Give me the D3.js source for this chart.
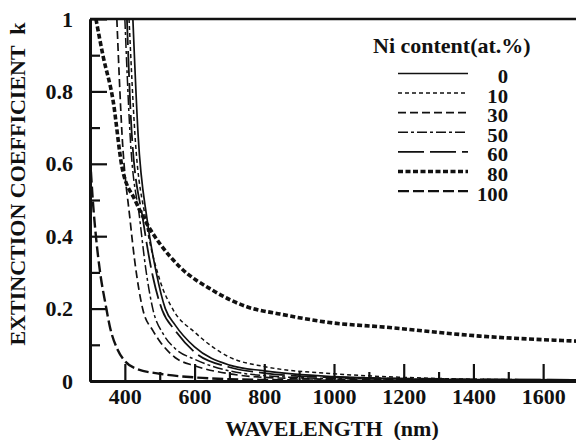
<!DOCTYPE html>
<html>
<head>
<meta charset="utf-8">
<script src="https://cdn.jsdelivr.net/npm/d3@7"></script>
<style>
  body { margin: 0; background: #fff; }
  svg text { font-family: "Liberation Serif", "Times New Roman", serif; font-weight: bold; fill: #111; }
</style>
</head>
<body>
<script>
// Ni content series (wavelength nm -> k)
const niContent = ["0", "10", "30", "50", "60", "80", "100"];

const wl0 = [423, 438, 464, 490, 516, 544, 600, 700, 800, 1000, 1200, 1400, 1700];
const k0  = [1.0, 0.68, 0.445, 0.30, 0.20, 0.155, 0.094, 0.044, 0.028, 0.012, 0.006, 0.004, 0.003];

const wl10 = [412, 429, 460, 500, 539, 600, 700, 800, 1000, 1200, 1400, 1700];
const k10  = [1.0, 0.68, 0.445, 0.28, 0.196, 0.135, 0.066, 0.04, 0.02, 0.01, 0.005, 0.003];

const wl30 = [377, 392, 415, 428, 452, 480, 500, 544, 600, 700, 800, 1000, 1700];
const k30  = [1.0, 0.68, 0.445, 0.334, 0.196, 0.14, 0.11, 0.065, 0.042, 0.02, 0.01, 0.005, 0.002];

const wl50 = [400, 415, 443, 460, 481, 510, 544, 600, 700, 800, 1000, 1700];
const k50  = [1.0, 0.68, 0.445, 0.31, 0.196, 0.13, 0.09, 0.06, 0.028, 0.015, 0.007, 0.002];

const wl60 = [406, 420, 452, 480, 507, 544, 600, 700, 800, 1000, 1700];
const k60  = [1.0, 0.68, 0.445, 0.29, 0.196, 0.14, 0.08, 0.038, 0.022, 0.01, 0.003];

const wl80 = [317, 337, 366, 392, 429, 472, 500, 558, 653, 750, 845, 1000, 1132, 1419, 1700];
const k80  = [1.0, 0.9, 0.776, 0.59, 0.5, 0.42, 0.38, 0.315, 0.25, 0.205, 0.185, 0.16, 0.15, 0.124, 0.11];

const wl100 = [300, 308, 318, 329, 345, 357, 380, 400, 430, 500, 600, 700, 800, 1000, 1700];
const k100  = [0.62, 0.5, 0.39, 0.3, 0.21, 0.15, 0.085, 0.055, 0.035, 0.02, 0.01, 0.005, 0.003, 0.001, 0];

const xMajor = [400, 600, 800, 1000, 1200, 1400, 1600];
const xMinor = [300, 500, 700, 900, 1100, 1300, 1500, 1700];
const yMajor = [0, 0.2, 0.4, 0.6, 0.8, 1];
const yMinor = [0.1, 0.3, 0.5, 0.7, 0.9];

const allWl = [wl0, wl10, wl30, wl50, wl60, wl80, wl100];
const allK = [k0, k10, k30, k50, k60, k80, k100];

// line styles for each Ni content
const dash = ["none", "4,3", "8,4", "10,3,3,3", "26,6", "5,2.5", "11,4"];
const widths = [1.7, 1.5, 1.7, 1.5, 1.8, 3.6, 2.4];

const W = 576, H = 440;
const mLeft = 90, mTop = 19, mBottom = 381, mRight = 578;

const svg = d3.select("body").append("svg")
  .attr("width", W)
  .attr("height", H);

const x = d3.scaleLinear().domain([300, 1700]).range([mLeft, mRight]);
const y = d3.scaleLinear().domain([0, 1]).range([mBottom, mTop]);

svg.append("clipPath").attr("id", "plot")
  .append("rect")
  .attr("x", mLeft).attr("y", mTop)
  .attr("width", mRight - mLeft).attr("height", mBottom - mTop);

// curves
const line = d3.line()
  .x(d => x(d[0]))
  .y(d => y(d[1]))
  .curve(d3.curveMonotoneX);

const curves = svg.append("g").attr("clip-path", "url(#plot)");
niContent.forEach((n, i) => {
  const pts = allWl[i].map((w, j) => [w, allK[i][j]]);
  curves.append("path")
    .datum(pts)
    .attr("d", line)
    .attr("fill", "none")
    .attr("stroke", "#111")
    .attr("stroke-width", widths[i])
    .attr("stroke-dasharray", dash[i]);
});

// axes (ticks point inward)
svg.append("g")
  .attr("transform", `translate(0,${mBottom})`)
  .call(d3.axisBottom(x).tickValues(xMajor).tickSizeInner(-17).tickSizeOuter(0).tickPadding(7)
    .tickFormat(d3.format("d")));
svg.append("g")
  .attr("transform", `translate(0,${mBottom})`)
  .call(d3.axisBottom(x).tickValues(xMinor).tickSizeInner(-9).tickSizeOuter(0).tickFormat(""));

svg.append("g")
  .attr("transform", `translate(${mLeft},0)`)
  .call(d3.axisLeft(y).tickValues(yMajor).tickSizeInner(-17).tickSizeOuter(0).tickPadding(17)
    .tickFormat(d => d === 0 || d === 1 ? d3.format("d")(d) : d3.format(".1f")(d)));
svg.append("g")
  .attr("transform", `translate(${mLeft},0)`)
  .call(d3.axisLeft(y).tickValues(yMinor).tickSizeInner(-10).tickSizeOuter(0).tickFormat(""));

svg.selectAll(".domain").attr("stroke", "#111").attr("stroke-width", 3);
svg.selectAll(".tick line").attr("stroke", "#111").attr("stroke-width", 2.2);
svg.selectAll(".tick text").attr("font-size", 22).attr("font-family", null);

// top border
svg.append("line")
  .attr("x1", mLeft).attr("x2", mRight)
  .attr("y1", mTop).attr("y2", mTop)
  .attr("stroke", "#111").attr("stroke-width", 2.5);

// axis titles
svg.append("text")
  .attr("x", 332).attr("y", 436)
  .attr("text-anchor", "middle")
  .attr("font-size", 22)
  .attr("xml:space", "preserve")
  .text("WAVELENGTH  (nm)");

svg.append("text")
  .attr("transform", "translate(25,184) rotate(-90)")
  .attr("text-anchor", "middle")
  .attr("font-size", 22)
  .attr("xml:space", "preserve")
  .text("EXTINCTION COEFFICIENT  k");

// legend
const legend = svg.append("g");
legend.append("text")
  .attr("x", 373).attr("y", 53)
  .attr("font-size", 22)
  .text("Ni content(at.%)");

niContent.forEach((n, i) => {
  const ly = 73.5 + i * 19.6;
  legend.append("line")
    .attr("x1", 398).attr("x2", 468)
    .attr("y1", ly).attr("y2", ly)
    .attr("stroke", "#111")
    .attr("stroke-width", widths[i])
    .attr("stroke-dasharray", dash[i]);
  legend.append("text")
    .attr("x", 508).attr("y", ly + 9.5)
    .attr("text-anchor", "end")
    .attr("font-size", 18)
    .attr("transform", `translate(508,${ly + 9.5}) scale(1.15,1) translate(-508,${-(ly + 9.5)})`)
    .text(n);
});
</script>
</body>
</html>
